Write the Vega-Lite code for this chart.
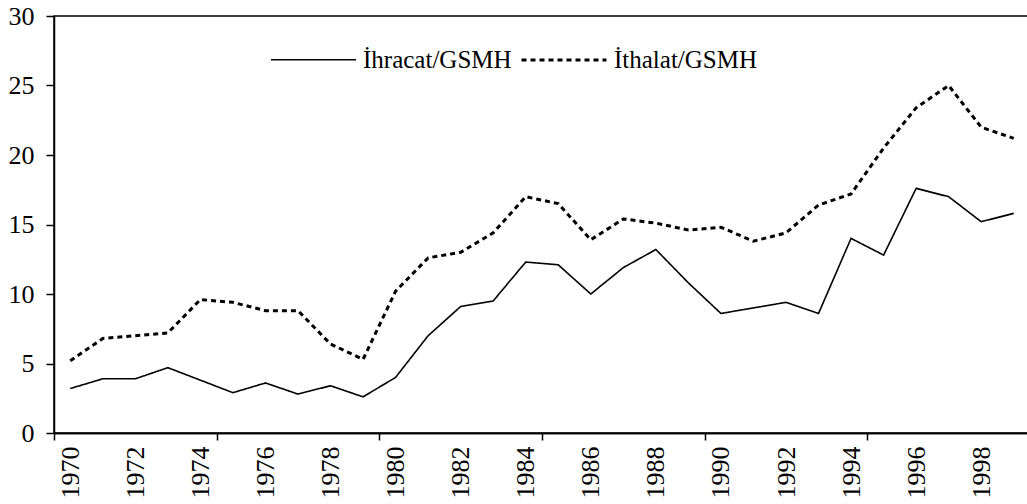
{
  "$schema": "https://vega.github.io/schema/vega-lite/v6.json",
  "width": 976,
  "height": 417,
  "padding": {"left": 8, "top": 3, "right": 0, "bottom": 0},
  "background": "white",
  "config": {
    "view": {"stroke": "black", "strokeWidth": 1.5},
    "font": "Liberation Serif",
    "axis": {"domainColor": "black", "domainWidth": 1.5, "tickColor": "black", "tickWidth": 1.5, "labelColor": "black", "labelFont": "Liberation Serif", "labelFontSize": 26, "grid": false, "title": null}
  },
  "data": {"values": [
    {"year": 1970, "series": "İhracat/GSMH", "value": 3.2},
    {"year": 1971, "series": "İhracat/GSMH", "value": 3.9},
    {"year": 1972, "series": "İhracat/GSMH", "value": 3.9},
    {"year": 1973, "series": "İhracat/GSMH", "value": 4.7},
    {"year": 1974, "series": "İhracat/GSMH", "value": 3.8},
    {"year": 1975, "series": "İhracat/GSMH", "value": 2.9},
    {"year": 1976, "series": "İhracat/GSMH", "value": 3.6},
    {"year": 1977, "series": "İhracat/GSMH", "value": 2.8},
    {"year": 1978, "series": "İhracat/GSMH", "value": 3.4},
    {"year": 1979, "series": "İhracat/GSMH", "value": 2.6},
    {"year": 1980, "series": "İhracat/GSMH", "value": 4.0},
    {"year": 1981, "series": "İhracat/GSMH", "value": 7.0},
    {"year": 1982, "series": "İhracat/GSMH", "value": 9.1},
    {"year": 1983, "series": "İhracat/GSMH", "value": 9.5},
    {"year": 1984, "series": "İhracat/GSMH", "value": 12.3},
    {"year": 1985, "series": "İhracat/GSMH", "value": 12.1},
    {"year": 1986, "series": "İhracat/GSMH", "value": 10.0},
    {"year": 1987, "series": "İhracat/GSMH", "value": 11.9},
    {"year": 1988, "series": "İhracat/GSMH", "value": 13.2},
    {"year": 1989, "series": "İhracat/GSMH", "value": 10.8},
    {"year": 1990, "series": "İhracat/GSMH", "value": 8.6},
    {"year": 1991, "series": "İhracat/GSMH", "value": 9.0},
    {"year": 1992, "series": "İhracat/GSMH", "value": 9.4},
    {"year": 1993, "series": "İhracat/GSMH", "value": 8.6},
    {"year": 1994, "series": "İhracat/GSMH", "value": 14.0},
    {"year": 1995, "series": "İhracat/GSMH", "value": 12.8},
    {"year": 1996, "series": "İhracat/GSMH", "value": 17.6},
    {"year": 1997, "series": "İhracat/GSMH", "value": 17.0},
    {"year": 1998, "series": "İhracat/GSMH", "value": 15.2},
    {"year": 1999, "series": "İhracat/GSMH", "value": 15.8},
    {"year": 1970, "series": "İthalat/GSMH", "value": 5.2},
    {"year": 1971, "series": "İthalat/GSMH", "value": 6.8},
    {"year": 1972, "series": "İthalat/GSMH", "value": 7.0},
    {"year": 1973, "series": "İthalat/GSMH", "value": 7.2},
    {"year": 1974, "series": "İthalat/GSMH", "value": 9.6},
    {"year": 1975, "series": "İthalat/GSMH", "value": 9.4},
    {"year": 1976, "series": "İthalat/GSMH", "value": 8.8},
    {"year": 1977, "series": "İthalat/GSMH", "value": 8.8},
    {"year": 1978, "series": "İthalat/GSMH", "value": 6.4},
    {"year": 1979, "series": "İthalat/GSMH", "value": 5.3},
    {"year": 1980, "series": "İthalat/GSMH", "value": 10.2},
    {"year": 1981, "series": "İthalat/GSMH", "value": 12.6},
    {"year": 1982, "series": "İthalat/GSMH", "value": 13.0},
    {"year": 1983, "series": "İthalat/GSMH", "value": 14.4},
    {"year": 1984, "series": "İthalat/GSMH", "value": 17.0},
    {"year": 1985, "series": "İthalat/GSMH", "value": 16.5},
    {"year": 1986, "series": "İthalat/GSMH", "value": 13.9},
    {"year": 1987, "series": "İthalat/GSMH", "value": 15.4},
    {"year": 1988, "series": "İthalat/GSMH", "value": 15.1},
    {"year": 1989, "series": "İthalat/GSMH", "value": 14.6},
    {"year": 1990, "series": "İthalat/GSMH", "value": 14.8},
    {"year": 1991, "series": "İthalat/GSMH", "value": 13.8},
    {"year": 1992, "series": "İthalat/GSMH", "value": 14.4},
    {"year": 1993, "series": "İthalat/GSMH", "value": 16.4},
    {"year": 1994, "series": "İthalat/GSMH", "value": 17.2},
    {"year": 1995, "series": "İthalat/GSMH", "value": 20.5},
    {"year": 1996, "series": "İthalat/GSMH", "value": 23.4},
    {"year": 1997, "series": "İthalat/GSMH", "value": 25.0},
    {"year": 1998, "series": "İthalat/GSMH", "value": 22.0},
    {"year": 1999, "series": "İthalat/GSMH", "value": 21.2}
  ]},
  "resolve": {"axis": {"x": "independent"}},
  "layer": [
    {
      "mark": {"type": "line", "color": "black"},
      "encoding": {
        "x": {"field": "year", "type": "ordinal", "scale": {"type": "point", "padding": 0.5},
              "axis": {"orient": "bottom", "values": [1970,1972,1974,1976,1978,1980,1982,1984,1986,1988,1990,1992,1994,1996,1998], "ticks": false, "domain": true, "labelAngle": 270, "labelAlign": "right", "labelBaseline": "middle", "labelPadding": 13, "labelFontSize": 26}},
        "y": {"field": "value", "type": "quantitative", "scale": {"domain": [0, 30], "nice": false},
              "axis": {"values": [0,5,10,15,20,25,30], "tickSize": 8, "labelPadding": 12}},
        "strokeDash": {"field": "series", "type": "nominal",
                       "scale": {"domain": ["İhracat/GSMH", "İthalat/GSMH"], "range": [[1, 0], [5, 4]]},
                       "legend": {"title": null, "orient": "none", "legendX": 216, "legendY": 0, "direction": "horizontal", "symbolType": "stroke", "symbolSize": 7225, "symbolStrokeColor": "black", "symbolStrokeWidth": 2, "labelFont": "Liberation Serif", "labelFontSize": 25, "labelColor": "black", "labelOffset": 6, "columnPadding": 3}},
        "strokeWidth": {"field": "series", "type": "nominal", "scale": {"domain": ["İhracat/GSMH", "İthalat/GSMH"], "range": [1.6, 3]}, "legend": null}
      }
    },
    {
      "mark": {"type": "line", "opacity": 0},
      "encoding": {
        "x": {"field": "year", "type": "ordinal", "scale": {"type": "point", "padding": 0.5},
              "axis": {"orient": "bottom", "values": [1970,1975,1980,1985,1990,1995], "labels": false, "ticks": true, "tickSize": 7, "tickOffset": -16.27, "domain": true}},
        "y": {"field": "value", "type": "quantitative", "scale": {"domain": [0, 30], "nice": false},
              "axis": {"values": [0,5,10,15,20,25,30], "tickSize": 8, "labelPadding": 12}},
        "detail": {"field": "series", "type": "nominal"}
      }
    }
  ]
}
